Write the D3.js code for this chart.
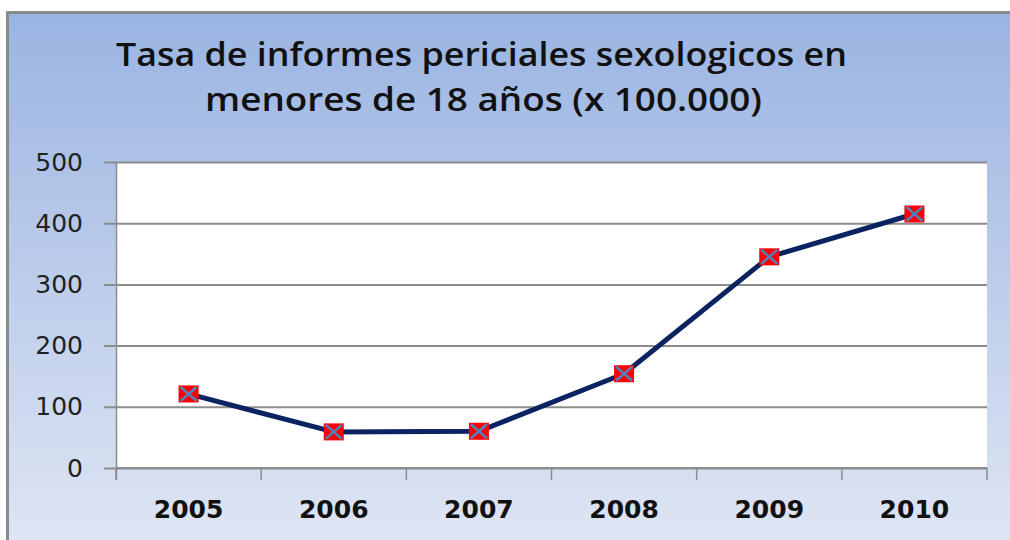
<!DOCTYPE html>
<html>
<head>
<meta charset="utf-8">
<script src="https://cdn.jsdelivr.net/npm/d3@7"></script>
<style>
  body { margin: 0; background: #fff; }
  svg { display: block; }
</style>
</head>
<body>
<script>
// chart data
var years = ["2005", "2006", "2007", "2008", "2009", "2010"];
var tasa = [121, 59, 60, 154, 345, 415];
var yTicks = [0, 100, 200, 300, 400, 500];
var titleLines = ["Tasa de informes periciales sexologicos en", "menores de 18 años (x 100.000)"];

var width = 1010, height = 540;
var margin = { top: 162, right: 23, bottom: 72, left: 116 };
var plotWidth = width - margin.left - margin.right;
var plotHeight = height - margin.top - margin.bottom;

var svg = d3.select("body").append("svg")
  .attr("width", width)
  .attr("height", height);

// background gradient
var defs = svg.append("defs");
var grad = defs.append("linearGradient")
  .attr("id", "bg")
  .attr("x1", 0).attr("y1", 0).attr("x2", 0).attr("y2", 1);
grad.append("stop").attr("offset", "0%").attr("stop-color", "#9ab4e2");
grad.append("stop").attr("offset", "100%").attr("stop-color", "#dee5f3");

svg.append("rect")
  .attr("x", 8).attr("y", 13)
  .attr("width", width - 8).attr("height", height - 13)
  .attr("fill", "url(#bg)");

// outer frame (top and left only visible)
svg.append("path")
  .attr("d", "M7.5," + height + "V12.5H" + width)
  .attr("fill", "none")
  .attr("stroke", "#8a8a8a")
  .attr("stroke-width", 3);

// title - widths stretched to match the original
var titleX = [116, 205], titleLen = [731, 557], titleY = [66, 111];
svg.append("g")
  .selectAll("text")
  .data(titleLines)
  .enter().append("text")
  .attr("x", function(d, i) { return titleX[i]; })
  .attr("y", function(d, i) { return titleY[i]; })
  .attr("textLength", function(d, i) { return titleLen[i]; })
  .attr("lengthAdjust", "spacingAndGlyphs")
  .style("font-family", "'Open Sans', sans-serif")
  .style("font-weight", "600")
  .style("font-size", "32px")
  .style("fill", "#111")
  .text(function(d) { return d; });

var g = svg.append("g")
  .attr("transform", "translate(" + margin.left + "," + margin.top + ")");

var xScale = d3.scaleBand().domain(years).range([0, plotWidth]);
var yScale = d3.scaleLinear().domain([0, 500]).range([plotHeight, 0]);

g.append("rect")
  .attr("width", plotWidth)
  .attr("height", plotHeight)
  .attr("fill", "#fff");

// gridlines + y axis
var yAxis = d3.axisLeft(yScale)
  .tickValues(yTicks)
  .tickSize(-plotWidth)
  .tickPadding(33)
  .tickSizeOuter(0);

var yg = g.append("g").call(yAxis);
yg.select(".domain").remove();
yg.selectAll(".tick line")
  .attr("x1", -12)
  .attr("stroke", "#8c8c8c")
  .attr("stroke-width", 2);
yg.selectAll(".tick text")
  .style("font-family", "'DejaVu Sans', sans-serif")
  .style("font-size", "25px")
  .style("fill", "#222");

// left axis line
g.append("line")
  .attr("x1", 0.5).attr("x2", 0.5)
  .attr("y1", 0).attr("y2", plotHeight + 12)
  .attr("stroke", "#8c8c8c")
  .attr("stroke-width", 1.5);

// x axis
var xg = g.append("g")
  .attr("transform", "translate(0," + plotHeight + ")");
xg.append("line")
  .attr("x1", 0).attr("x2", plotWidth)
  .attr("stroke", "#8c8c8c").attr("stroke-width", 2);
xg.selectAll(".xtick")
  .data(years.map(function(d) { return xScale(d); }).concat([plotWidth]))
  .enter().append("line")
  .attr("x1", function(d) { return d; })
  .attr("x2", function(d) { return d; })
  .attr("y1", 0).attr("y2", 12)
  .attr("stroke", "#8c8c8c").attr("stroke-width", 1.5);
xg.selectAll(".xlabel")
  .data(years)
  .enter().append("text")
  .attr("x", function(d) { return xScale(d) + xScale.bandwidth() / 2; })
  .attr("y", 50)
  .attr("text-anchor", "middle")
  .style("font-family", "'DejaVu Sans', sans-serif")
  .style("font-weight", "700")
  .style("font-size", "25px")
  .style("fill", "#111")
  .text(function(d) { return d; });

// line
var line = d3.line()
  .x(function(d, i) { return xScale(years[i]) + xScale.bandwidth() / 2; })
  .y(function(d) { return yScale(d); });

g.append("path")
  .datum(tasa)
  .attr("d", line)
  .attr("fill", "none")
  .attr("stroke", "#0b2461")
  .attr("stroke-width", 5)
  .attr("stroke-linejoin", "round");

// markers
var mk = g.selectAll(".marker")
  .data(tasa)
  .enter().append("g")
  .attr("transform", function(d, i) {
    return "translate(" + (xScale(years[i]) + xScale.bandwidth() / 2) + "," + yScale(d) + ")";
  });
mk.append("rect")
  .attr("x", -10).attr("y", -8.5)
  .attr("width", 20).attr("height", 17)
  .attr("fill", "#ff0000");
mk.append("path")
  .attr("d", "M-8,-7L8,7M-8,7L8,-7")
  .attr("stroke", "#4f81bd")
  .attr("stroke-width", 2.5);
</script>
</body>
</html>
